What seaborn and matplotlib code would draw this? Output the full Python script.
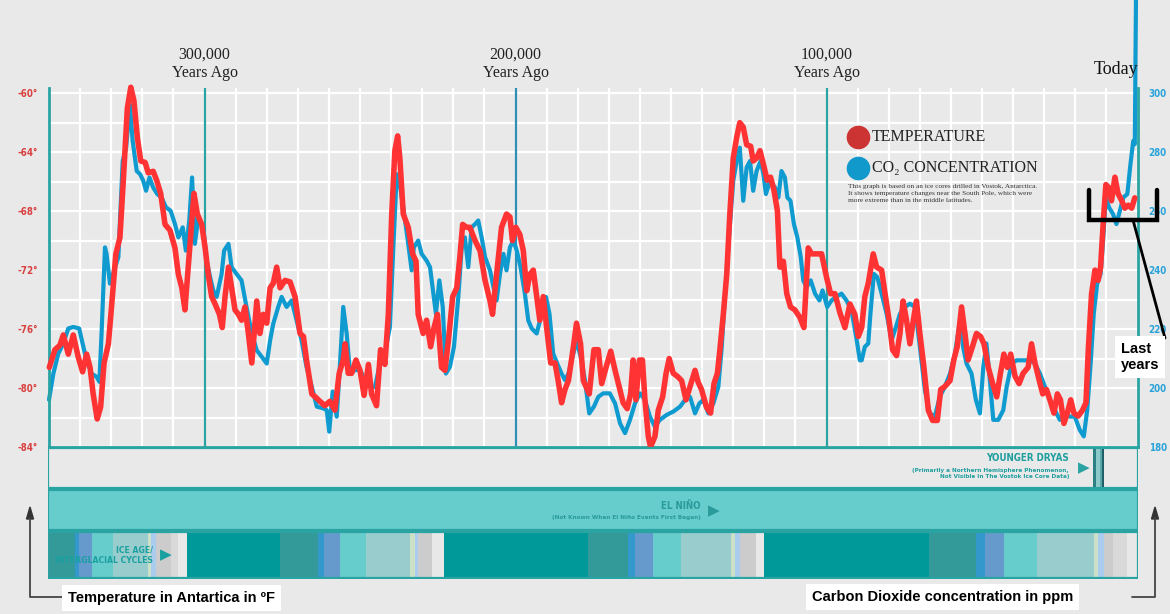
"""
Vostok ice core: temperature in Antarctica and CO2 over the last 350,000 years.
Saves out.png (1170x614).
"""
import numpy as np
import matplotlib
matplotlib.use("Agg")
import matplotlib.pyplot as plt
import seaborn as sns
from matplotlib.lines import Line2D
from matplotlib.patches import Polygon, Rectangle
from matplotlib.ticker import MultipleLocator

# ---- data (thousand years ago, degrees F / ppm) ----
temp_kya = [
    349.9, 348.1, 346.5, 345.4, 343.8, 342.2, 340.6, 339.2, 337.9, 336.8,
    335.8, 334.5, 333.4, 332.3, 330.9, 329.9, 328.5, 327.2, 326.1, 324.8,
    323.7, 322.7, 321.6, 320.5, 319.1, 318.1, 316.5, 315.4, 314.1, 312.7,
    311.1, 309.5, 308.4, 307.3, 306.3, 304.9, 303.4, 302.3, 300.9, 299.8,
    298.8, 297.7, 296.6, 295.2, 294.3, 293.4, 292.3, 291.3, 290.2, 289.1,
    288.1, 287.0, 285.9, 284.8, 283.2, 282.2, 281.1, 280.0, 278.9, 277.9,
    276.8, 275.7, 274.1, 272.5, 270.9, 269.3, 268.2, 267.2, 265.5, 263.9,
    262.9, 261.3, 259.7, 258.1, 256.7, 255.4, 254.8, 253.8, 252.7, 251.3,
    250.0, 248.7, 247.3, 246.3, 244.7, 243.4, 242.0, 240.9, 239.8, 238.8,
    237.9, 237.2, 236.1, 234.5, 233.1, 232.0, 231.3, 229.7, 228.6, 227.3,
    226.2, 225.1, 223.8, 222.7, 221.6, 220.2, 218.9, 217.9, 217.0, 215.7,
    214.7, 213.0, 211.4, 209.8, 208.2, 207.4, 206.1, 204.5, 202.9, 201.8,
    201.0, 199.9, 198.6, 197.5, 196.4, 195.4, 194.3, 193.0, 192.2, 191.1,
    190.0, 188.7, 187.3, 186.3, 185.2, 184.1, 183.0, 181.4, 180.4, 179.1,
    178.2, 176.3, 174.8, 173.4, 172.3, 170.9, 169.4, 168.0, 166.7, 165.4,
    164.1, 163.0, 162.2, 161.3, 160.2, 159.2, 158.4, 157.3, 156.6, 155.2,
    154.1, 152.7, 151.6, 150.6, 149.3, 148.0, 146.6, 145.2, 143.9, 142.3,
    141.3, 140.2, 138.6, 137.3, 136.2, 135.1, 134.3, 133.2, 132.1, 131.1,
    130.0, 128.9, 127.9, 126.8, 125.7, 124.4, 123.6, 122.5, 121.4, 120.1,
    119.1, 118.0, 116.9, 115.8, 115.0, 113.9, 112.8, 111.6, 110.2, 108.6,
    107.3, 105.9, 104.8, 103.2, 101.6, 100.0, 98.7, 97.3, 95.7, 94.1,
    92.5, 90.9, 89.8, 88.7, 87.7, 86.6, 85.0, 83.9, 82.3, 81.2,
    79.9, 78.8, 77.5, 76.4, 75.4, 74.3, 73.2, 72.1, 71.1, 70.0,
    68.7, 67.3, 65.9, 64.4, 63.3, 62.0, 60.3, 59.1, 58.0, 56.6,
    55.5, 54.5, 53.1, 51.8, 50.5, 49.4, 48.0, 46.6, 45.3, 44.1,
    43.0, 41.9, 40.8, 39.4, 38.1, 36.8, 35.2, 34.1, 33.0, 31.6,
    30.5, 29.3, 28.2, 26.9, 25.8, 24.8, 23.7, 22.6, 21.5, 20.5,
    19.1, 17.7, 16.6, 15.8, 14.8, 13.7, 12.7, 11.9, 11.0, 10.2,
    9.3, 8.4, 7.3, 6.3, 5.1, 4.1, 3.0, 1.9, 0.9,
]
temp_f = [
    -78.6, -77.4, -77.1, -76.4, -77.7, -76.4, -77.9, -78.9, -77.7, -78.6,
    -80.4, -82.1, -81.3, -78.3, -77.0, -74.5, -70.9, -69.8, -65.9, -61.0,
    -59.6, -60.5, -63.0, -64.6, -64.7, -65.4, -65.3, -65.9, -66.8, -68.9,
    -69.3, -70.5, -72.3, -73.2, -74.7, -70.9, -66.8, -68.2, -68.9, -70.5,
    -72.3, -73.8, -74.3, -75.0, -75.9, -73.8, -71.8, -73.2, -74.7, -75.0,
    -75.4, -74.5, -76.3, -78.3, -74.1, -76.3, -75.0, -75.6, -73.2, -72.9,
    -71.8, -73.2, -72.7, -72.8, -73.8, -76.3, -76.5, -78.1, -80.4, -80.7,
    -80.9, -81.2, -80.9, -81.5, -79.0, -78.1, -77.0, -79.0, -79.0, -78.1,
    -78.8, -80.5, -78.4, -80.4, -81.2, -77.4, -78.4, -75.0, -68.2, -63.9,
    -62.9, -64.4, -68.2, -69.1, -70.9, -71.4, -75.0, -76.3, -75.4, -77.2,
    -75.9, -75.0, -78.6, -78.8, -76.8, -73.8, -73.2, -71.1, -68.9, -69.1,
    -69.1, -70.0, -70.7, -72.7, -74.1, -75.0, -72.3, -69.1, -68.2, -68.4,
    -70.0, -69.1, -69.6, -70.7, -73.4, -72.3, -72.0, -74.1, -75.4, -73.8,
    -75.9, -78.3, -78.3, -79.5, -81.0, -80.1, -79.5, -77.2, -75.6, -77.0,
    -79.5, -80.4, -77.4, -77.4, -79.7, -78.6, -77.5, -78.8, -79.9, -81.0,
    -81.4, -80.4, -78.1, -80.8, -78.1, -78.1, -80.8, -83.3, -84.0, -83.3,
    -81.5, -80.6, -79.0, -78.0, -79.0, -79.2, -79.5, -80.8, -79.9, -78.8,
    -79.6, -80.1, -81.3, -81.7, -79.7, -79.0, -77.4, -75.0, -72.3, -68.2,
    -64.4, -63.0, -62.0, -62.3, -63.5, -63.6, -64.6, -64.4, -63.9, -65.0,
    -65.9, -65.7, -66.6, -68.0, -71.8, -71.4, -73.6, -74.5, -74.7, -75.2,
    -75.9, -70.5, -70.9, -70.9, -70.9, -72.5, -73.6, -73.6, -74.9, -75.9,
    -74.3, -75.0, -76.5, -75.9, -73.8, -72.9, -70.9, -71.8, -72.0, -73.6,
    -75.4, -77.4, -77.8, -76.3, -74.1, -75.4, -77.0, -75.4, -74.1, -76.3,
    -78.6, -81.5, -82.2, -82.2, -80.1, -79.9, -79.5, -78.1, -77.2, -74.5,
    -76.3, -78.1, -77.2, -76.3, -76.5, -77.0, -78.6, -79.7, -80.6, -79.0,
    -77.7, -78.6, -77.7, -79.2, -79.7, -79.0, -78.6, -77.0, -78.3, -79.5,
    -80.4, -80.1, -80.8, -81.7, -80.4, -80.8, -82.4, -81.7, -80.8, -81.7,
    -81.9, -81.5, -81.0, -77.2, -73.6, -72.0, -72.7, -71.8, -68.6, -66.2,
    -66.4, -67.3, -65.7, -66.8, -67.3, -67.8, -67.6, -67.8, -67.1,
]

co2_kya = [
    350.0, 348.6, 347.0, 345.4, 343.8, 342.2, 340.3, 339.2, 337.9, 336.3,
    334.7, 333.8, 333.1, 332.0, 331.5, 330.4, 329.1, 327.7, 326.3, 325.2,
    324.0, 323.1, 321.8, 320.7, 319.7, 318.8, 317.7, 316.5, 315.2, 313.8,
    312.4, 310.9, 309.5, 308.4, 307.0, 306.0, 304.9, 304.0, 303.1, 302.0,
    300.4, 299.3, 298.2, 297.2, 296.1, 294.5, 293.7, 292.3, 291.3, 289.7,
    288.1, 286.5, 284.8, 283.2, 281.6, 280.0, 278.9, 277.9, 276.3, 275.2,
    273.6, 272.0, 270.4, 268.8, 267.2, 265.5, 263.9,
    261.8, 260.7, 259.9, 258.8, 257.5, 256.5, 255.4, 254.3, 253.2, 251.6,
    250.0, 248.4, 246.8, 245.2, 243.6, 242.0, 240.4, 239.3, 238.2, 237.4,
    236.1, 234.5, 233.4, 232.7, 231.3, 230.2, 228.6, 227.5, 226.4, 225.6,
    224.5, 223.4, 222.4, 221.1, 219.8, 218.4, 217.3, 216.3, 215.2, 214.1,
    213.0, 212.0, 210.9, 209.8, 208.2, 207.1, 206.1, 205.0, 203.9, 202.9,
    201.8, 200.7, 199.6, 198.4, 197.0, 195.9, 194.8, 193.2, 191.6, 190.2,
    189.1, 187.9, 186.6, 185.2, 184.1, 183.0, 181.4, 180.4, 178.8, 177.7,
    176.3, 174.8, 173.4, 171.8, 169.7, 168.0, 166.4, 164.8, 163.2, 161.6,
    160.0, 158.4, 156.8, 155.2, 153.6, 151.4, 149.3, 147.1, 145.5, 143.9,
    142.3, 140.9, 139.6, 138.0, 136.4, 134.8, 133.7, 132.7, 131.3, 130.0,
    128.9, 127.9, 126.8, 125.7, 124.6, 123.6, 122.5, 121.2, 120.3, 119.5,
    118.2, 116.6, 115.5, 114.5, 113.4, 112.6, 111.6, 110.5, 109.4, 108.3,
    107.5, 106.4, 105.1, 103.7, 102.3, 101.3, 99.8, 98.4, 97.0, 95.2,
    93.6, 92.0, 90.3, 89.3, 88.7, 87.7, 86.6, 85.9, 84.8, 83.7,
    82.3, 80.7, 79.1, 77.7, 76.4, 74.8, 73.2, 71.6, 70.0, 68.4,
    66.8, 65.2, 63.6, 62.0, 60.3, 58.7, 57.1, 56.1, 55.0, 53.4,
    52.0, 50.7, 49.6, 48.6, 47.5, 46.4, 44.8, 43.2, 42.1, 40.5,
    38.9, 36.8, 34.6, 33.0, 31.4, 29.8, 28.2, 26.6, 25.0, 23.4,
    21.8, 20.2, 18.6, 17.3, 16.2, 15.1, 14.1, 13.0, 11.9, 11.1,
    10.2, 9.2, 7.9, 6.8, 5.7, 4.6, 3.3, 2.3, 1.4, 0.9, 0.0,
]
co2_ppm = [
    196.0, 204.9, 211.7, 215.1, 220.2, 220.7, 220.2, 215.1, 209.4, 204.9,
    203.8, 202.1, 218.5, 247.7, 245.5, 235.4, 239.9, 244.4, 277.0, 281.5,
    296.2, 283.8, 273.6, 272.5, 270.3, 266.9, 271.4, 268.0, 265.8, 264.6,
    261.3, 260.1, 255.6, 251.1, 254.5, 246.6, 256.8, 271.4, 248.9, 257.9,
    254.5, 243.2, 237.6, 233.1, 230.9, 238.7, 246.6, 248.9, 241.0, 238.7,
    236.5, 227.5, 218.5, 212.8, 210.6, 208.3, 216.2, 221.8, 227.5, 230.9,
    227.5, 229.7, 222.9, 216.2, 207.2, 200.4, 193.7,
    193.1, 192.5, 185.2, 198.8, 190.3, 207.2, 227.5, 218.5, 204.9, 206.1,
    206.1, 202.7, 200.4, 200.4, 208.3, 211.7, 220.7, 247.7, 272.5, 270.3,
    261.3, 248.9, 239.9, 247.7, 250.0, 245.5, 243.2, 241.0, 232.0, 225.2,
    236.5, 227.5, 204.9, 207.2, 214.0, 230.9, 247.7, 251.1, 241.0, 254.5,
    255.6, 256.8, 251.1, 244.4, 239.9, 234.2, 229.7, 238.7, 245.5, 239.9,
    247.7, 250.0, 246.6, 241.0, 232.0, 222.9, 220.2, 218.5, 225.2, 230.9,
    225.2, 211.7, 208.3, 204.9, 202.7, 204.9, 211.7, 216.2, 209.4, 202.7,
    191.4, 193.7, 197.0, 198.2, 198.2, 194.8, 188.0, 184.7, 189.2, 194.8,
    198.2, 196.0, 190.3, 186.9, 189.2, 190.9, 192.0, 193.7, 196.0, 197.0,
    191.4, 194.8, 196.0, 191.4, 194.8, 200.4, 214.0, 230.9, 252.2, 270.3,
    277.0, 281.5, 263.5, 274.8, 277.0, 266.9, 273.6, 277.0, 272.5, 265.8,
    270.3, 268.0, 264.6, 273.6, 271.4, 264.6, 263.5, 255.6, 251.1, 244.4,
    236.5, 234.2, 236.5, 232.0, 229.7, 233.1, 227.5, 229.7, 230.9, 232.0,
    229.7, 226.4, 216.2, 209.4, 209.4, 214.0, 215.1, 225.2, 238.7, 237.6,
    232.0, 225.2, 216.2, 220.7, 225.2, 227.5, 228.6, 227.5, 214.0, 199.3,
    191.4, 190.3, 197.0, 200.4, 204.9, 211.7, 222.9, 213.9, 208.3, 204.9,
    196.0, 191.4, 207.2, 215.1, 202.7, 189.2, 189.2, 192.5, 200.4, 208.3,
    209.4, 209.4, 209.4, 208.3, 204.9, 200.4, 196.0, 192.5, 189.2, 191.4,
    190.3, 190.3, 185.8, 183.6, 192.5, 208.3, 225.2, 235.4, 238.7, 250.0,
    264.6, 261.3, 259.0, 255.6, 260.1, 264.6, 265.8, 275.9, 283.8, 282.7, 400.0,
]

temp_ticks = [-84, -80, -76, -72, -68, -64, -60]
co2_ticks = [180, 200, 220, 240, 260, 280, 300]
era_kya = [300, 200, 100]
era_labels = ["300,000", "200,000", "100,000"]

# ice age / interglacial band: (from kya, to kya, colour)
cycle_segments = [
    (350.0, 341.4, "#339999"), (341.4, 340.1, "#3399cc"), (340.1, 335.9, "#6699cc"),
    (335.9, 329.1, "#66cccc"), (329.1, 317.9, "#99cccc"), (317.9, 316.9, "#cce0c8"),
    (316.9, 315.3, "#aaccee"), (315.3, 310.5, "#cccccc"), (310.5, 308.3, "#d9d9d9"),
    (308.3, 305.3, "#e8e8e8"), (305.3, 275.4, "#009999"),
    (275.4, 263.2, "#339999"), (263.2, 261.3, "#3399cc"), (261.3, 256.1, "#6699cc"),
    (256.1, 247.8, "#66cccc"), (247.8, 233.6, "#99cccc"), (233.6, 232.0, "#cce0c8"),
    (232.0, 231.0, "#aaccee"), (231.0, 226.6, "#cccccc"), (226.6, 222.7, "#e8e8e8"),
    (222.7, 176.7, "#009999"),
    (176.7, 163.8, "#339999"), (163.8, 161.6, "#3399cc"), (161.6, 155.8, "#6699cc"),
    (155.8, 146.8, "#66cccc"), (146.8, 130.7, "#99cccc"), (130.7, 129.4, "#cce0c8"),
    (129.4, 127.8, "#aaccee"), (127.8, 122.7, "#cccccc"), (122.7, 120.1, "#e8e8e8"),
    (120.1, 67.1, "#009999"),
    (67.1, 52.0, "#339999"), (52.0, 49.1, "#3399cc"), (49.1, 43.0, "#6699cc"),
    (43.0, 32.4, "#66cccc"), (32.4, 14.0, "#99cccc"), (14.0, 12.7, "#cce0c8"),
    (12.7, 10.8, "#aaccee"), (10.8, 7.9, "#cccccc"), (7.9, 3.4, "#d9d9d9"),
    (3.4, 0.0, "#e8e8e8"),
]

BG = "#e9e9e9"
RED = "#ff3333"
BLUE = "#0f9bcf"
TEAL = "#2aa3a3"
W, H = 1170, 614
NARROW = ["Liberation Sans Narrow", "DejaVu Sans"]
SERIF = ["Liberation Serif", "DejaVu Serif"]


def fx(x):
    return x / W


def fy(y):
    return 1 - y / H


sns.set_theme(style="darkgrid", rc={"axes.facecolor": BG, "figure.facecolor": BG,
                                    "grid.color": "white", "grid.linewidth": 1.6})
plt.rcParams["font.family"] = ["Liberation Sans", "DejaVu Sans"]

fig = plt.figure(figsize=(W / 100, H / 100), dpi=100)

# main chart: CO2 axes carries the grid, temperature axes is twinned on top
L, R, T, B = 49, 1137.6, 88, 447
ax = fig.add_axes([fx(L), fy(B), (R - L) / W, (B - T) / H])
sns.lineplot(x=co2_kya, y=co2_ppm, ax=ax, color=BLUE, linewidth=3.0,
             estimator=None, sort=False)
ax.lines[-1].set_clip_on(False)

tax = ax.twinx()
sns.lineplot(x=temp_kya, y=temp_f, ax=tax, color=RED, linewidth=4.0,
             estimator=None, sort=False)
tax.lines[-1].set_clip_on(False)

ax.set_xlim(350, 0)
tax.set_ylim(-84, -59.65)
ax.set_ylim(180, 300 + (-59.65 + 60) * 5)
ax.set_xticks(np.arange(0, 351, 10))
ax.set_xticklabels([])
ax.set_yticks(co2_ticks)
ax.yaxis.set_minor_locator(MultipleLocator(10))
ax.grid(which="both", color="white", linewidth=1.6)
ax.yaxis.tick_right()
ax.set_yticklabels([str(v) for v in co2_ticks], color="#29a3d9",
                   fontsize=7, fontweight="bold", family=NARROW,
                   fontstretch="condensed")
ax.tick_params(which="both", length=0)
ax.tick_params(axis="y", pad=8)

tax.grid(False)
tax.yaxis.tick_left()
tax.set_yticks(temp_ticks)
tax.set_yticklabels([f"{v}°" for v in temp_ticks], color="#d94040",
                    fontsize=7, fontweight="bold", family=NARROW,
                    fontstretch="condensed")
tax.tick_params(length=0, pad=8)
for a in (ax, tax):
    a.set_xlabel("")
    a.set_ylabel("")
for s in tax.spines.values():
    s.set_visible(False)
for name, s in ax.spines.items():
    s.set_visible(name != "top")
    s.set_color(TEAL)
    s.set_linewidth(2)

for k, c in zip(era_kya, [TEAL, "#2f8fb5", TEAL]):
    ax.axvline(k, color=c, linewidth=1.6, zorder=1.5)

# headers above the chart
xt = ax.get_xaxis_transform()
for k, lab in zip(era_kya, era_labels):
    ax.text(k, (B - 55) / (B - T), lab, transform=xt, ha="center", va="center",
            family=SERIF, fontsize=11.5, color="#222222")
    ax.text(k, (B - 73) / (B - T), "Years Ago", transform=xt, ha="center",
            va="center", family=SERIF, fontsize=11.5, color="#222222")
fig.text(fx(1116), fy(70), "Today", ha="center", va="center", family=SERIF,
         fontsize=13, color="#111111")

# legend
for yy, c, lab in [(137, "#cc3333", "TEMPERATURE"), (168, "#1199cc", "CO₂ CONCENTRATION")]:
    fig.add_artist(Line2D([fx(858)], [fy(yy)], marker="o", markersize=16,
                          color=c, transform=fig.transFigure))
    fig.text(fx(872), fy(yy), lab, ha="left", va="center", family=SERIF,
             fontsize=11.5, color="#222222")
note = ("This graph is based on an ice cores drilled in Vostok, Antarctica.\n"
        "It shows temperature changes near the South Pole, which were\n"
        "more extreme than in the middle latitudes.")
fig.text(fx(848), fy(184), note, ha="left", va="top", family=SERIF,
         fontsize=5.2, color="#333333", linespacing=1.45)

# bands below the chart
bax = fig.add_axes([fx(48), fy(579), (R - 48) / W, (579 - 446) / H])
bax.set_xlim(350, 0)
bax.set_ylim(579, 446)
bax.axis("off")
bax.add_patch(Rectangle((0, 448), 350, 40, facecolor=BG, edgecolor=TEAL, lw=1.6))
bax.add_patch(Rectangle((0, 490), 350, 40, facecolor="#66cccc", edgecolor=TEAL, lw=1.6))
for a0, a1, c in cycle_segments:
    bax.add_patch(Rectangle((a1, 532), a0 - a1, 46, facecolor=c, edgecolor="none"))
bax.add_patch(Rectangle((0, 532), 350, 46, facecolor="none", edgecolor=TEAL, lw=1.6))
for a0, a1, c in [(14.3, 13.5, "#2d7f86"), (13.5, 12.2, "#8cc9c9"),
                  (12.2, 11.4, "#5aa8ad"), (11.4, 10.8, "#1f5f66")]:
    bax.add_patch(Rectangle((a1, 449), a0 - a1, 38, facecolor=c, edgecolor="none"))

BT = "#1f9e9e"
cond = dict(family=NARROW, fontweight="bold", fontstretch="condensed")
fig.text(fx(1069), fy(458), "YOUNGER DRYAS", ha="right", va="center",
         fontsize=7, color=BT, **cond)
fig.text(fx(1069), fy(473.5), "(Primarily a Northern Hemisphere Phenomenon,\n"
         "Not Visible In The Vostok Ice Core Data)", ha="right", va="center",
         fontsize=4.6, color=BT, multialignment="right", **cond)
fig.text(fx(1084), fy(468), "▶", ha="center", va="center", family="DejaVu Sans",
         fontsize=11, color=TEAL)
fig.text(fx(701), fy(506), "EL NIÑO", ha="right", va="center",
         fontsize=7, color="#2a9a9a", **cond)
fig.text(fx(701), fy(517), "(Not Known When El Niño Events First Began)", ha="right",
         va="center", fontsize=4.6, color="#2a9a9a", **cond)
fig.text(fx(714), fy(511), "▶", ha="center", va="center", family="DejaVu Sans",
         fontsize=11, color="#2a9a9a")
fig.text(fx(153), fy(555), "ICE AGE/\nINTERGLACIAL CYCLES", ha="right", va="center",
         fontsize=6.2, color="#1aa0a0", multialignment="right", linespacing=1.15,
         **cond)
fig.text(fx(166), fy(555), "▶", ha="center", va="center", family="DejaVu Sans",
         fontsize=11, color="#1aa0a0")

# annotations
box = dict(facecolor="white", edgecolor="none", pad=4)
fig.text(fx(68), fy(598), "Temperature in Antartica in ºF", ha="left", va="center",
         fontsize=10.5, fontweight="bold", color="black", bbox=box)
fig.text(fx(812), fy(597), "Carbon Dioxide concentration in ppm", ha="left",
         va="center", fontsize=10.5, fontweight="bold", color="black", bbox=box)
fig.text(fx(1121), fy(357), "Last\nyears", ha="left", va="center", fontsize=10.5,
         fontweight="bold", color="black", linespacing=1.25, bbox=box)


def fig_line(xs, ys, **kw):
    fig.add_artist(Line2D([fx(x) for x in xs], [fy(y) for y in ys],
                          transform=fig.transFigure, **kw))


def arrow_head(x, y):
    fig.add_artist(Polygon([(fx(x), fy(y)), (fx(x - 3.5), fy(y + 12)), (fx(x + 3.5), fy(y + 12))],
                           closed=True, color="#333333", transform=fig.transFigure))


fig_line([64, 30, 30], [597, 597, 518], color="#444444", lw=1.3)
arrow_head(30, 507)
fig_line([1132, 1155, 1155], [597, 597, 518], color="#444444", lw=1.3)
arrow_head(1155, 507)
fig_line([1089, 1089, 1157, 1157], [190, 220, 220, 190], color="black", lw=3.2,
         solid_joinstyle="miter")
fig_line([1133, 1165], [220, 338], color="black", lw=2)

fig.savefig("out.png", dpi=100, facecolor=BG)
